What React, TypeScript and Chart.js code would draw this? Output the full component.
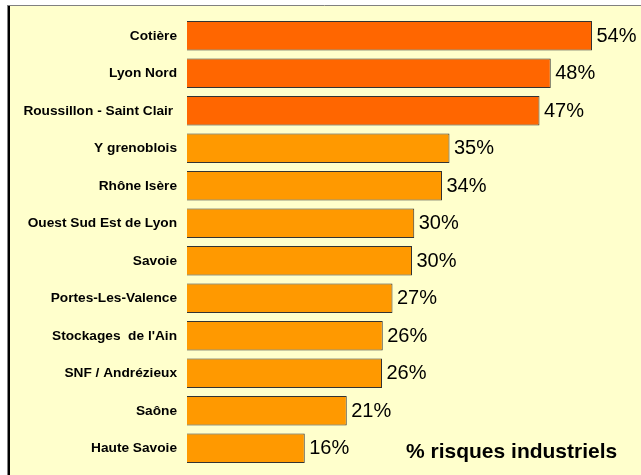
import React, { useEffect, useRef } from "react";
import { Chart, registerables } from "chart.js";

Chart.register(...registerables);

const categories = [
  "Cotière",
  "Lyon Nord",
  "Roussillon - Saint Clair ",
  "Y grenoblois",
  "Rhône Isère",
  "Ouest Sud Est de Lyon",
  "Savoie",
  "Portes-Les-Valence",
  "Stockages  de l'Ain",
  "SNF / Andrézieux",
  "Saône",
  "Haute Savoie",
];
const values = [54, 48.5, 47, 35, 34, 30.3, 30, 27.4, 26.1, 26, 21.3, 15.7];
const valueLabels = ["54%", "48%", "47%", "35%", "34%", "30%", "30%", "27%", "26%", "26%", "21%", "16%"];
const barColors = [
  "#FF6600", "#FF6600", "#FF6600",
  "#FF9900", "#FF9900", "#FF9900", "#FF9900", "#FF9900", "#FF9900", "#FF9900", "#FF9900", "#FF9900",
];
const chartTitle = "% risques industriels";

const FONT = "'Liberation Sans', Arial, sans-serif";

const backgroundPlugin = {
  id: "bgPanel",
  beforeDraw(chart: any) {
    const { ctx, width, height } = chart;
    ctx.save();
    ctx.fillStyle = "#FFFFFF";
    ctx.fillRect(0, 0, width, height);
    ctx.fillStyle = "#FFFFCC";
    ctx.fillRect(8, 5, width - 8, height - 5);
    ctx.strokeStyle = "#808080";
    ctx.lineWidth = 1;
    ctx.beginPath();
    ctx.moveTo(8, 5.5);
    ctx.lineTo(width, 5.5);
    ctx.moveTo(7.5, 5);
    ctx.lineTo(7.5, height);
    ctx.stroke();
    ctx.strokeStyle = "#000000";
    ctx.lineWidth = 2;
    ctx.beginPath();
    ctx.moveTo(9, 6);
    ctx.lineTo(9, height);
    ctx.stroke();
    ctx.restore();
  },
};

const labelPlugin = {
  id: "valueLabels",
  afterDatasetsDraw(chart: any) {
    const { ctx } = chart;
    const meta = chart.getDatasetMeta(0);
    ctx.save();
    ctx.fillStyle = "#000000";
    ctx.font = `20px ${FONT}`;
    ctx.textAlign = "left";
    ctx.textBaseline = "middle";
    meta.data.forEach((bar: any, i: number) => {
      ctx.fillText(valueLabels[i], bar.x + 4.5, bar.y + 0.5);
    });
    ctx.font = `bold 21px ${FONT}`;
    ctx.textBaseline = "alphabetic";
    ctx.fillText(chartTitle, 406, 457.5);
    ctx.restore();
  },
};

export default function App() {
  const canvasRef = useRef<HTMLCanvasElement | null>(null);

  useEffect(() => {
    document.body.style.margin = "0";
    const canvas = canvasRef.current;
    if (!canvas) return;
    const chart = new Chart(canvas, {
      type: "bar",
      data: {
        labels: categories,
        datasets: [
          {
            data: values,
            backgroundColor: barColors,
            borderColor: "#333333",
            borderWidth: 1,
            categoryPercentage: 1,
            barPercentage: 0.79,
          },
        ],
      },
      options: {
        indexAxis: "y",
        responsive: false,
        animation: false,
        devicePixelRatio: 1,
        layout: { padding: { top: 17, bottom: 8, left: 0, right: 4 } },
        plugins: {
          legend: { display: false },
          tooltip: { enabled: false },
          title: { display: false },
        },
        scales: {
          x: {
            display: false,
            min: 0,
            max: 60,
          },
          y: {
            grid: { display: false, drawTicks: false },
            border: { display: false },
            afterFit(scale: any) {
              scale.width = 187;
              scale.paddingTop = 0;
              scale.paddingBottom = 0;
            },
            ticks: {
              padding: 10,
              color: "#000000",
              font: { family: FONT, size: 13.7, weight: "bold" },
              autoSkip: false,
            },
          },
        },
      },
      plugins: [backgroundPlugin, labelPlugin],
    });
    return () => chart.destroy();
  }, []);

  return (
    <div style={{ width: 641, height: 475 }}>
      <canvas ref={canvasRef} width={641} height={475} style={{ display: "block" }} />
    </div>
  );
}
